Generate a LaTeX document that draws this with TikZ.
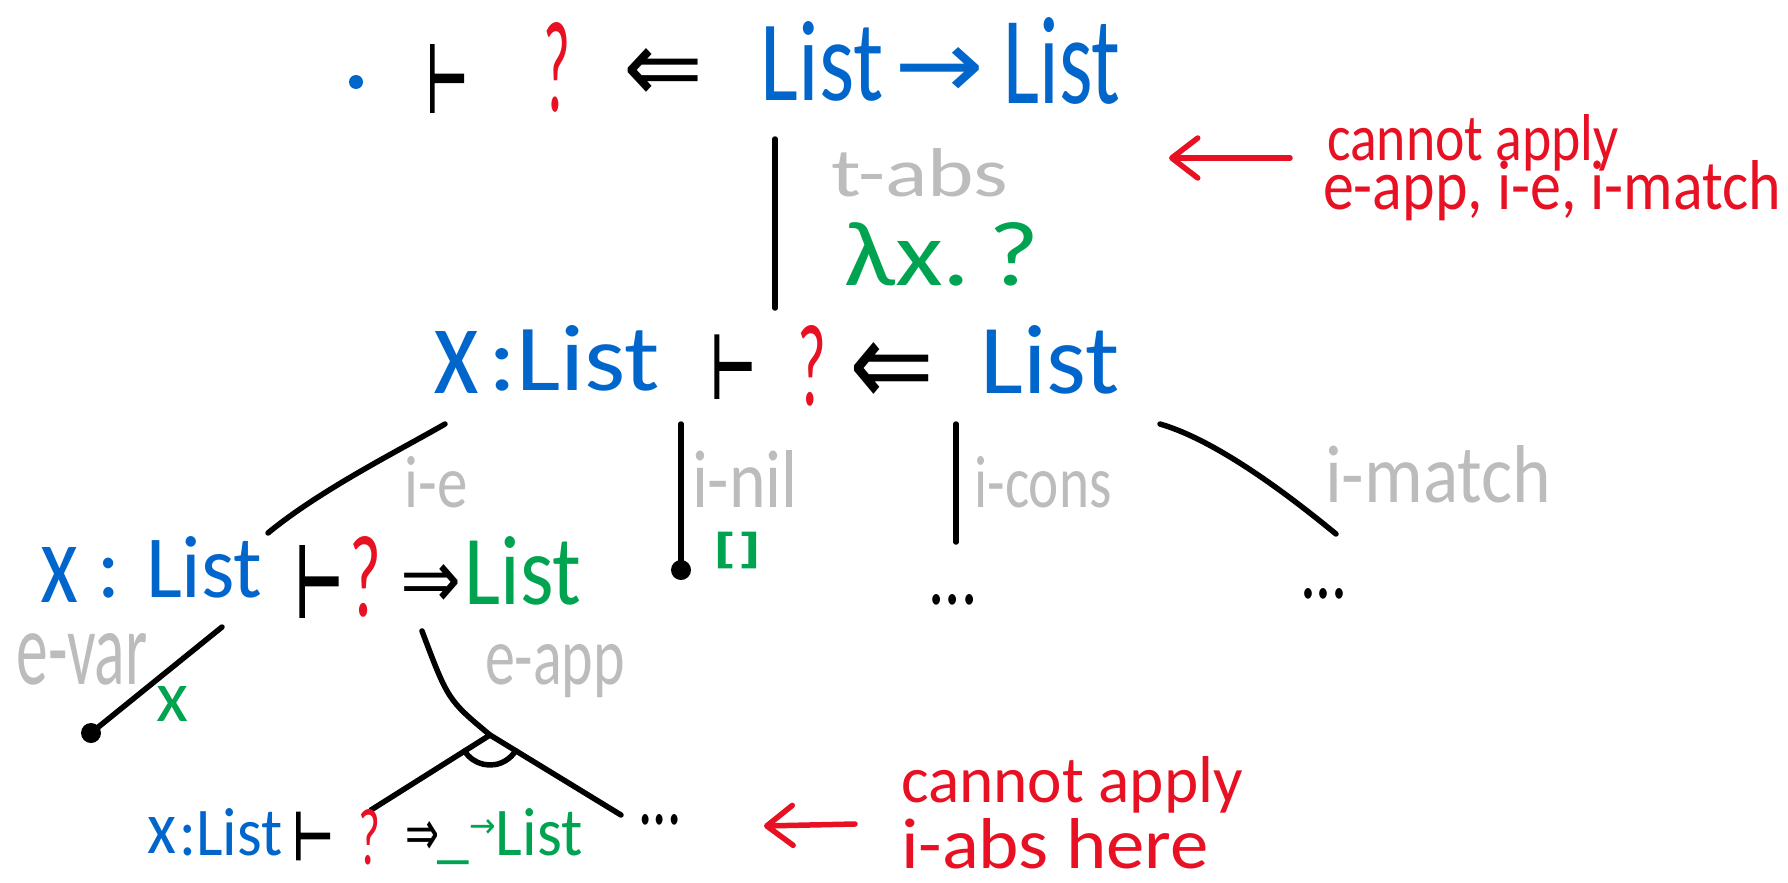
\documentclass[tikz,border=0pt]{standalone}
\usepackage{fontspec}
\usepackage{graphicx}
\setmainfont{Carlito}
\newfontfamily\symfont{DejaVu Sans}
\newfontfamily\turnfont[FakeBold=4]{DejaVu Sans}
\usetikzlibrary{arrows.meta}
\definecolor{hwblue}{RGB}{0,102,204}
\definecolor{hwred}{RGB}{232,17,35}
\definecolor{hwgreen}{RGB}{0,163,80}
\definecolor{hwgray}{RGB}{188,188,188}
% fit a piece of text into a box of given width and height (in pt)
\newcommand\fitto[3]{\resizebox{#1pt}{#2pt}{#3}}
\newcommand\symto[3]{\resizebox{#1pt}{#2pt}{\symfont #3}}
\newcommand\turnto[2]{\resizebox{#1pt}{#2pt}{\turnfont ⊢}}
\begin{document}
\begin{tikzpicture}[x=1pt,y=-1pt,
  every node/.style={inner sep=0pt,outer sep=0pt,font=\fontsize{80}{96}\selectfont},
  base/.style={anchor=base},
  dotn/.style={circle,fill,minimum size=#1,inner sep=0pt},
  edge/.style={line width=5.5pt,line cap=round,line join=round},
  note/.style={hwred,line width=5.5pt,line cap=round,
    -{Straight Barb[length=26pt,width=40pt,round]}}]
\fill[white] (0,0) rectangle (1788,883);
\useasboundingbox (0,0) rectangle (1788,883);

% goal: . |- ? <= List -> List
\node[dotn=14pt,text=hwblue,fill=hwblue] (d0) at (356,82) {};
\node[base] (t0) at (447,111) {\turnto{40}{65}};
\node[base,text=hwred] (q0) at (557,112) {\fitto{27}{89}{?}};
\node[base] (a0) at (663,102) {\symto{80}{54}{⇐}};
\node[base,text=hwblue] (l0a) at (822,100) {\fitto{123}{79}{List}};
\node[base,text=hwblue] (r0) at (939,99) {\symto{90}{51}{→}};
\node[base,text=hwblue] (l0b) at (1062,103) {\fitto{117}{86}{List}};

% t-abs step
\coordinate (s0a) at (775,139);
\coordinate (s0b) at (775,308);
\draw[edge] (s0a) -- (s0b);
\node[base,text=hwgray] (n0) at (920,196) {\fitto{177}{48}{t-abs}};
\node[base,text=hwgreen] (c0) at (942,285) {\fitto{196}{63}{λx.\,?}};

% x:List |- ? <= List
\node[base,text=hwblue] (x1) at (456,393) {\fitto{46}{62}{x}};
\node[base,text=hwblue] (l1a) at (574,390) {\fitto{172}{65}{:List}};
\node[base] (t1) at (733,397) {\turnto{44}{61}};
\node[base,text=hwred] (q1) at (812,405) {\fitto{29}{80}{?}};
\node[base] (a1) at (892,406) {\symto{85}{64}{⇐}};
\node[base,text=hwblue] (l1b) at (1050,393) {\fitto{139}{68}{List}};

% branches below the checking goal
\coordinate (s1a) at (445,424);
\coordinate (s1b) at (268,533);
\draw[edge] (s1a) .. controls (400,450) and (320,490) .. (s1b);
\node[base,text=hwgray] (n1) at (436,507) {\fitto{63}{51}{i-e}};

\coordinate (s2a) at (681,424);
\node[dotn=20pt] (s2b) at (681,570) {};
\draw[edge] (s2a) -- (s2b.center);
\node[base,text=hwgray] (n2) at (745,507) {\fitto{106}{57}{i-nil}};
\node[text=hwgreen] (c2) at (737,550) {\fitto{46}{30}{\turnfont[]}};

\coordinate (s3a) at (956,424);
\coordinate (s3b) at (956,542);
\draw[edge] (s3a) -- (s3b);
\node[base,text=hwgray] (n3) at (1043,507) {\fitto{137}{51}{i-cons}};
\node[base] (e3) at (953,604) {\fitto{49}{10}{...}};

\coordinate (s4a) at (1160,424);
\coordinate (s4b) at (1336,534);
\draw[edge] (s4a) .. controls (1215,440) and (1285,492) .. (s4b);
\node[base,text=hwgray] (n4) at (1438,502) {\fitto{226}{57}{i-match}};
\node[base] (e4) at (1324,598) {\fitto{48}{10}{...}};

% x:List |- ? => List
\node[base,text=hwblue] (x2) at (59,602) {\fitto{38}{55}{x}};
\node[base,text=hwblue] (l2a) at (180,597) {\fitto{165}{61}{: List}};
\node[base] (t2) at (319,616) {\turnto{46}{69}};
\node[base,text=hwred] (q2) at (365,616) {\fitto{32}{80}{?}};
\node[base] (a2) at (431,608) {\symto{61}{44}{⇒}};
\node[base,text=hwgreen] (l2b) at (523,604) {\fitto{117}{68}{List}};

% e-var
\coordinate (s5a) at (222,627);
\node[dotn=20pt] (s5b) at (91,733) {};
\draw[edge] (s5a) -- (s5b.center);
\node[base,text=hwgray] (n5) at (82,684) {\fitto{131}{51}{e-var}};
\node[base,text=hwgreen] (c5) at (172,721) {\fitto{32}{35}{x}};

% e-app with its two premises joined by an arc
\coordinate (s6a) at (422,631);
\coordinate (ap) at (490,735);
\coordinate (s6b) at (621,815);
\coordinate (s6c) at (371,810);
\draw[edge] (s6a) .. controls (448,700) .. (ap) -- (s6b);
\draw[edge] (ap) -- (s6c);
\draw[edge] (ap) ++(147.8:30) arc[start angle=147.8,end angle=31.4,radius=30];
\node[base,text=hwgray] (n6) at (555,684) {\fitto{140}{40}{e-app}};
\node[base] (e6) at (660,824) {\fitto{43}{10}{...}};

% x:List |- ? => _ -> List
\node[base,text=hwblue] (x3) at (162,853) {\fitto{29}{36}{x}};
\node[base,text=hwblue] (l3a) at (231,855) {\fitto{103}{47}{:List}};
\node[base] (t3) at (313,859) {\turnto{40}{46}};
\node[base,text=hwred] (q3) at (369,864) {\fitto{22}{55}{?}};
\node[base] (a3) at (422,855) {\symto{34}{34}{⇒}};
\node[base,text=hwgreen] (l3b) at (510,855)
  {\fitto{145}{47}{\_{\symfont\fontsize{40}{40}\selectfont\raisebox{20pt}{→}}List}};

% remarks
\coordinate (ra0) at (1290,158);
\coordinate (ra1) at (1169,158);
\draw[note] (ra0) -- (ra1);
\node[base,text=hwred] (m0a) at (1473,160) {\fitto{292}{46}{cannot apply}};
\node[base,text=hwred] (m0b) at (1552,209) {\fitto{458}{49}{e-app, i-e, i-match}};

\coordinate (rb0) at (855,824);
\coordinate (rb1) at (764,826);
\draw[note] (rb0) -- (rb1);
\node[base,text=hwred] (m1a) at (1072,802) {\fitto{342}{46}{cannot apply}};
\node[base,text=hwred] (m1b) at (1055,868) {\fitto{308}{50}{i-abs here}};
\end{tikzpicture}
\end{document}
